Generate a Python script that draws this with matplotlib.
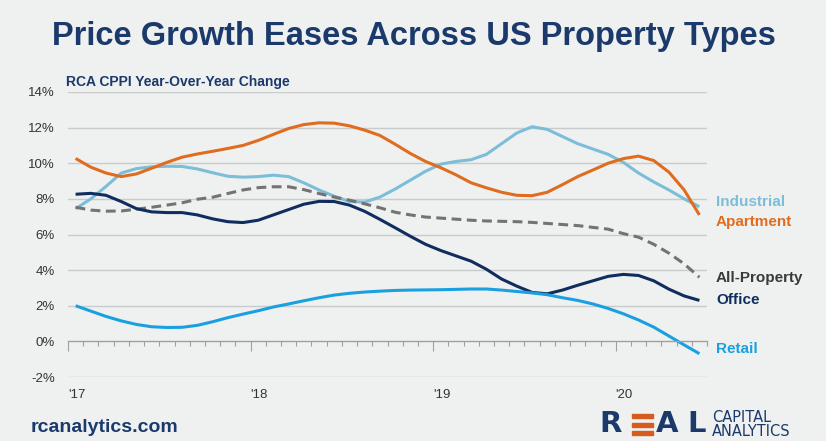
import matplotlib.pyplot as plt
from matplotlib.patches import Rectangle
from matplotlib.transforms import blended_transform_factory
import numpy as np

# monthly YoY change, Jan 2017 - Jun 2020
apartment = [10.27, 9.78, 9.45, 9.25, 9.4, 9.72, 10.05, 10.34, 10.52, 10.67, 10.83, 11.0,
             11.28, 11.62, 11.95, 12.17, 12.27, 12.25, 12.1, 11.86, 11.56, 11.07, 10.55, 10.1,
             9.75, 9.35, 8.9, 8.62, 8.37, 8.2, 8.18, 8.37, 8.8, 9.25, 9.62, 10.0,
             10.26, 10.4, 10.15, 9.5, 8.5, 7.1]
industrial = [7.45, 8.0, 8.7, 9.45, 9.7, 9.8, 9.83, 9.82, 9.68, 9.47, 9.27, 9.22,
              9.25, 9.33, 9.25, 8.9, 8.5, 8.15, 7.85, 7.82, 8.1, 8.55, 9.05, 9.55,
              9.95, 10.1, 10.2, 10.5, 11.1, 11.7, 12.05, 11.9, 11.5, 11.1, 10.8, 10.5,
              10.05, 9.45, 8.95, 8.5, 8.0, 7.56]
all_property = [7.53, 7.37, 7.31, 7.32, 7.42, 7.53, 7.65, 7.78, 7.98, 8.09, 8.3, 8.5,
                8.63, 8.68, 8.68, 8.52, 8.3, 8.1, 7.93, 7.72, 7.5, 7.25, 7.1, 6.98,
                6.92, 6.86, 6.8, 6.76, 6.74, 6.72, 6.68, 6.62, 6.56, 6.5, 6.4, 6.3,
                6.05, 5.85, 5.45, 4.95, 4.35, 3.6]
office = [8.26, 8.31, 8.2, 7.85, 7.45, 7.27, 7.23, 7.23, 7.1, 6.88, 6.72, 6.67,
          6.8, 7.1, 7.4, 7.7, 7.86, 7.85, 7.65, 7.3, 6.85, 6.38, 5.9, 5.45,
          5.1, 4.8, 4.5, 4.05, 3.5, 3.1, 2.75, 2.67, 2.88, 3.15, 3.4, 3.65,
          3.76, 3.7, 3.4, 2.93, 2.55, 2.3]
retail = [2.0, 1.7, 1.4, 1.15, 0.95, 0.82, 0.78, 0.79, 0.9, 1.1, 1.33, 1.53,
          1.72, 1.93, 2.1, 2.28, 2.45, 2.6, 2.7, 2.77, 2.82, 2.86, 2.88, 2.89,
          2.9, 2.92, 2.94, 2.94, 2.88, 2.8, 2.72, 2.62, 2.45, 2.3, 2.1, 1.85,
          1.55, 1.2, 0.8, 0.3, -0.2, -0.69]
year_labels = ["'17", "'18", "'19", "'20"]
y_ticks = [-2, 0, 2, 4, 6, 8, 10, 12, 14]

NAVY = '#1b3a6b'
BG = '#eff1f1'
plt.rcParams['font.family'] = ['Liberation Sans', 'DejaVu Sans']

W, H = 826, 441
fig = plt.figure(figsize=(W / 100, H / 100), dpi=100, facecolor=BG)

def fx(x):
    return x / W

def fy(y):
    return 1 - y / H

ax = fig.add_axes([fx(68), fy(377), (707 - 68) / W, (377 - 92) / H])
ax.set_facecolor(BG)

months = np.arange(len(apartment)) + 0.5
ax.plot(months, industrial, color='#7cbdd8', lw=2.2, solid_capstyle='butt')
ax.plot(months, apartment, color='#e06c1f', lw=2.2, solid_capstyle='butt')
ax.plot(months, all_property, color='#737373', lw=2.2, dashes=(3.2, 1.8))
ax.plot(months, office, color='#0f2d5e', lw=2.2, solid_capstyle='butt')
ax.plot(months, retail, color='#1aa0e0', lw=2.2, solid_capstyle='butt')

ax.set_xlim(0, 42)
ax.set_ylim(-2, 14)
for v in y_ticks:
    if v != 0:
        ax.axhline(v, color='#c9cbcc', lw=1.0, zorder=0)
ax.set_yticks(y_ticks)
ax.set_yticklabels([f'{v}%' for v in y_ticks], fontsize=9.5, color='#333333')
ax.tick_params(axis='y', length=0, pad=9.5)

for s in ['top', 'right', 'left']:
    ax.spines[s].set_visible(False)
ax.spines['bottom'].set_position(('data', 0))
ax.spines['bottom'].set_color('#a0a0a0')
ax.spines['bottom'].set_linewidth(1.0)
ax.set_xticks([0, 12, 24, 36])
ax.set_xticks(np.arange(0, 43), minor=True)
ax.tick_params(axis='x', which='major', length=7.5, width=0.8, color='#a0a0a0',
               direction='out', labelbottom=False)
ax.tick_params(axis='x', which='minor', length=3.5, width=0.8, color='#a0a0a0',
               direction='out')

tr = blended_transform_factory(ax.transData, ax.transAxes)
for i, lab in enumerate(year_labels):
    ax.text(i * 12, -0.062, lab, transform=tr, ha='left', va='center',
            fontsize=9.5, color='#333333')

# series labels on the right
label_specs = [('Industrial', '#7cbdd8', 202), ('Apartment', '#e06c1f', 222),
               ('All-Property', '#3a3a3a', 278), ('Office', '#0f2d5e', 300),
               ('Retail', '#1aa0e0', 349)]
for name, col, y in label_specs:
    fig.text(fx(716), fy(y), name, color=col, fontsize=11, fontweight='bold',
             ha='left', va='center')

fig.text(fx(414), fy(36), 'Price Growth Eases Across US Property Types', ha='center',
         va='center', fontsize=23.5, fontweight='bold', color=NAVY)
fig.text(fx(66), fy(82), 'RCA CPPI Year-Over-Year Change', ha='left', va='center',
         fontsize=10, fontweight='bold', color=NAVY)

fig.text(fx(31), fy(428), 'rcanalytics.com', ha='left', va='center',
         fontsize=14, fontweight='bold', color=NAVY)

# logo
fig.text(fx(599), fy(424.5), 'R', ha='left', va='center', fontsize=21,
         fontweight='bold', color=NAVY, family='DejaVu Sans')
for yb in (414, 422.5, 430.5):
    fig.patches.append(Rectangle((fx(632), fy(yb + 4)), 21 / W, 4 / H,
                                 transform=fig.transFigure, color='#d55b1f'))
fig.text(fx(656), fy(424.5), 'A', ha='left', va='center', fontsize=21,
         fontweight='bold', color=NAVY, family='DejaVu Sans')
fig.text(fx(687), fy(424.5), 'L', ha='left', va='center', fontsize=21,
         fontweight='bold', color=NAVY, family='DejaVu Sans')
fig.text(fx(712), fy(424.5), 'CAPITAL\nANALYTICS', ha='left', va='center',
         fontsize=10.5, linespacing=0.95, color=NAVY, family='DejaVu Sans')

fig.savefig('out.png', dpi=100, facecolor=BG)
